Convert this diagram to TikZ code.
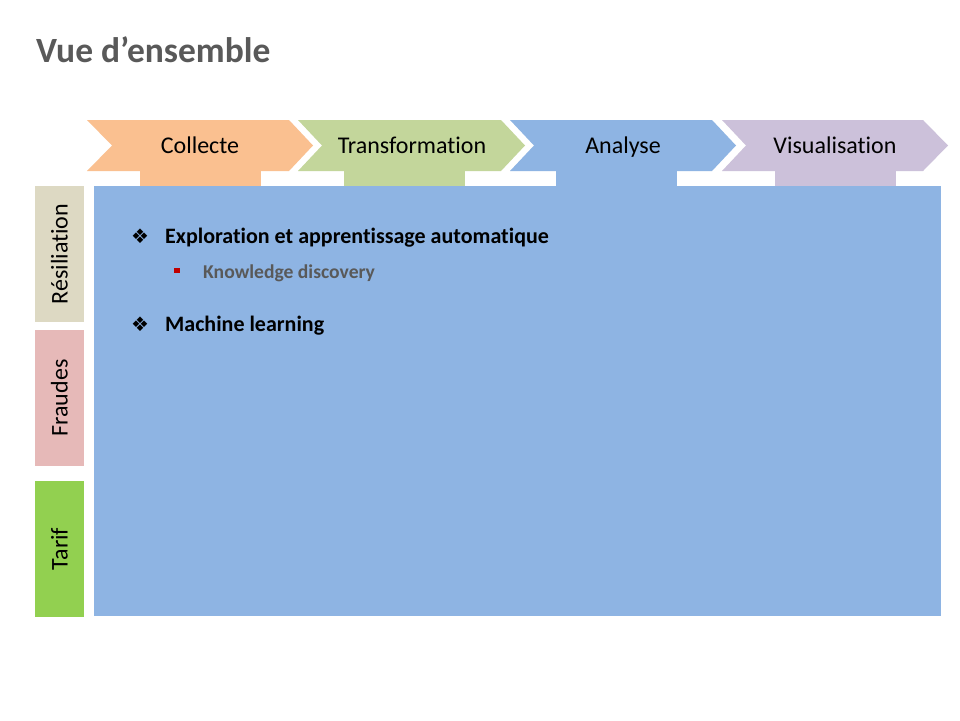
\documentclass[tikz,border=0pt]{standalone}
\usepackage{fontspec}
\setmainfont[Ligatures={NoCommon}]{Carlito}
\newfontfamily\symfont{DejaVu Sans}
\definecolor{cOrange}{HTML}{FAC090}
\definecolor{cGreen}{HTML}{C3D69B}
\definecolor{cBlue}{HTML}{8EB4E3}
\definecolor{cPurple}{HTML}{CCC1DA}
\definecolor{cBeige}{HTML}{DDD9C3}
\definecolor{cPink}{HTML}{E6B9B8}
\definecolor{cLime}{HTML}{92D050}
\definecolor{cGray}{HTML}{595959}
\definecolor{cRed}{HTML}{C00000}
\begin{document}
\begin{tikzpicture}[x=1pt,y=-1pt,
  steplabel/.style={inner sep=0pt,anchor=base,font=\fontsize{24}{28}\selectfont,text=black},
  sidelabel/.style={inner sep=0pt,rotate=90,font=\fontsize{24}{28}\selectfont,text=black},
  mainitem/.style={inner sep=0pt,anchor=base west,font=\fontsize{22}{26}\selectfont\bfseries,text=black},
  subitem/.style={inner sep=0pt,anchor=base west,font=\fontsize{19.6}{23}\selectfont\bfseries,text=cGray},
  bulletsym/.style={inner sep=0pt,font=\symfont\fontsize{20}{22}\selectfont,text=black}]
\useasboundingbox (0,0) rectangle (960,720);
\fill[white] (0,0) rectangle (960,720);
% title
\node[inner sep=0pt,anchor=base west,font=\fontsize{35.5}{40}\selectfont\bfseries,text=cGray] (title) at (36,62) {Vue d’ensemble};
% chevrons
\newcommand\chev[5]{%
  \fill[#5] (#1,120) -- (#3,120) -- (#4,145.5) -- (#3,171) -- (#1,171) -- (#2,145.5) -- cycle;}
\chev{87}{112}{289}{313}{cOrange}
\chev{298}{322}{501}{525}{cGreen}
\chev{510}{534}{712}{736}{cBlue}
\chev{722}{746}{923}{948}{cPurple}
% tabs
\fill[cOrange] (140,170) rectangle (261,186);
\fill[cGreen] (344,170) rectangle (465,186);
\fill[cBlue] (556,170) rectangle (677,186);
\fill[cPurple] (775,170) rectangle (896,186);
% main area
\fill[cBlue] (94,186) rectangle (941,616);
% chevron labels
\node[steplabel] (collecte) at (200,153) {Collecte};
\node[steplabel] (transfo) at (412,153) {Transformation};
\node[steplabel] (analyse) at (623,153) {Analyse};
\node[steplabel] (visu) at (835,153) {Visualisation};
% side boxes
\fill[cBeige] (35,186) rectangle (84,322);
\fill[cPink] (35,330) rectangle (84,466);
\fill[cLime] (35,481) rectangle (84,617);
\node[sidelabel] (resil) at (59.5,254) {Résiliation};
\node[sidelabel] (fraudes) at (59.5,398) {Fraudes};
\node[sidelabel] (tarif) at (59.5,549) {Tarif};
% content
\node[bulletsym] (b1) at (140,236) {❖};
\node[mainitem] (item1) at (165,243) {Exploration et apprentissage automatique};
\fill[cRed] (174,267.5) rectangle (179.5,273) coordinate (sq);
\node[subitem] (item1a) at (203,278) {Knowledge discovery};
\node[bulletsym] (b2) at (140,324) {❖};
\node[mainitem] (item2) at (165,331) {Machine learning};
\end{tikzpicture}
\end{document}
